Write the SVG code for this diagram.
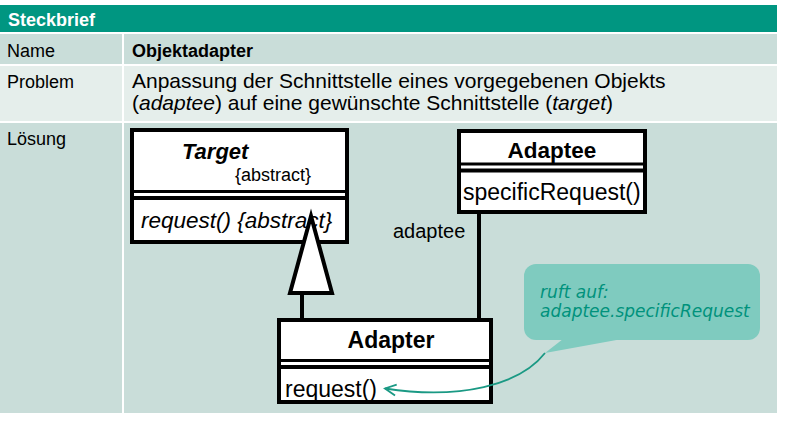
<svg xmlns="http://www.w3.org/2000/svg" width="789" height="427" viewBox="0 0 789 427">
<style>
.t{font-family:"Liberation Sans",Arial,sans-serif;fill:#000}
.b{font-weight:bold}
.i{font-style:italic}
.row1{fill:#c9ddd9}
.row2{fill:#e5eeeb}
.box{fill:#fff;stroke:#000;stroke-width:4}
.ln{stroke:#000;fill:none}
.note{font-family:"DejaVu Sans",Verdana,sans-serif;font-style:italic;font-size:17px;fill:#00927c}
</style>
<defs>
<marker id="open" markerUnits="userSpaceOnUse" viewBox="-13 -7 15 14" refX="0" refY="0" markerWidth="15" markerHeight="14" orient="auto">
<path d="M-11,-5.5 L0,0 L-11,5.5" fill="none" stroke="#1a9984" stroke-width="1.8"/>
</marker>
</defs>
<rect width="789" height="427" fill="#fff"/>
<g id="table">
<rect x="0" y="5" width="777" height="27" fill="#009681"/>
<rect class="row1" x="0" y="34" width="122" height="30"/>
<rect class="row1" x="124" y="34" width="653" height="30"/>
<rect class="row2" x="0" y="66" width="122" height="55"/>
<rect class="row2" x="124" y="66" width="653" height="55"/>
<rect class="row1" x="0" y="123" width="122" height="290"/>
<rect class="row1" x="124" y="123" width="653" height="290"/>
<text class="t b" x="8" y="26" font-size="18" style="fill:#fff">Steckbrief</text>
<text class="t" x="7" y="57" font-size="18">Name</text>
<text class="t b" x="132" y="57" font-size="18">Objektadapter</text>
<text class="t" x="7" y="88" font-size="18">Problem</text>
<text class="t" x="132" y="88" font-size="21">Anpassung der Schnittstelle eines vorgegebenen Objekts</text>
<text class="t" x="132" y="110" font-size="21">(<tspan class="i">adaptee</tspan>) auf eine gewünschte Schnittstelle (<tspan class="i">target</tspan>)</text>
<text class="t" x="7" y="145" font-size="18">Lösung</text>
</g>
<g id="target">
<rect class="box" x="132" y="130" width="215" height="112"/>
<line class="ln" x1="132" y1="191.5" x2="347" y2="191.5" stroke-width="3"/>
<line class="ln" x1="132" y1="198" x2="347" y2="198" stroke-width="4"/>
<text class="t b i" x="182" y="159" font-size="22">Target</text>
<text class="t" x="235" y="181" font-size="18">{abstract}</text>
<text class="t i" x="141" y="228" font-size="22.5">request() {abstract}</text>
</g>
<g id="adaptee">
<rect class="box" x="459" y="131" width="186" height="81"/>
<line class="ln" x1="459" y1="164" x2="645" y2="164" stroke-width="3"/>
<line class="ln" x1="459" y1="170.5" x2="645" y2="170.5" stroke-width="4"/>
<text class="t b" x="552" y="158" font-size="22.5" text-anchor="middle">Adaptee</text>
<text class="t" x="463" y="200" font-size="23">specificRequest()</text>
</g>
<g id="adapter">
<rect class="box" x="279" y="320" width="212" height="82"/>
<line class="ln" x1="279" y1="360.5" x2="491" y2="360.5" stroke-width="3"/>
<line class="ln" x1="279" y1="367" x2="491" y2="367" stroke-width="4"/>
<text class="t b" x="391" y="348" font-size="23" text-anchor="middle">Adapter</text>
<text class="t" x="285" y="397" font-size="23">request()</text>
</g>
<g id="connectors">
<line class="ln" x1="302" y1="293" x2="302" y2="320" stroke-width="4"/>
<polygon points="311,216 332,293 290,293" fill="#fff" stroke="#000" stroke-width="4" stroke-linejoin="miter"/>
<line class="ln" x1="479" y1="212" x2="479" y2="320" stroke-width="4"/>
<text class="t" x="393" y="238" font-size="20">adaptee</text>
<path d="M545,353 C520,385 460,400 385,388.5" fill="none" stroke="#1a9984" stroke-width="1.8" marker-end="url(#open)"/>
</g>
<g id="note">
<rect x="524" y="264" width="236" height="76" rx="12" fill="#7fcbbf"/>
<polygon points="563,339 545,353 622,339" fill="#7fcbbf"/>
<text class="note" x="540" y="298">ruft auf:</text>
<text class="note" x="540" y="317">adaptee.specificRequest</text>
</g>
</svg>
